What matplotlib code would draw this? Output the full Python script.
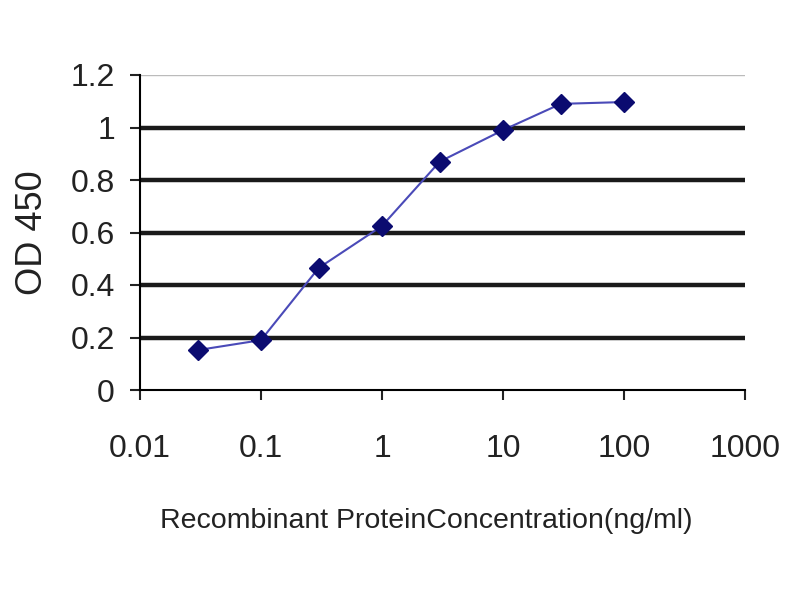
import matplotlib
matplotlib.use('Agg')
import matplotlib.pyplot as plt
from matplotlib.ticker import FixedLocator, FixedFormatter, NullLocator

# concentration (ng/ml) vs OD 450
conc = [0.03, 0.1, 0.3, 1, 3, 10, 30, 100]
od450 = [0.152, 0.19, 0.465, 0.625, 0.87, 0.99, 1.09, 1.097]

xticks = [0.01, 0.1, 1, 10, 100, 1000]
xtick_labels = ['0.01', '0.1', '1', '10', '100', '1000']
yticks = [0, 0.2, 0.4, 0.6, 0.8, 1.0, 1.2]
ytick_labels = ['0', '0.2', '0.4', '0.6', '0.8', '1', '1.2']

plt.rcParams['font.family'] = ['Liberation Sans', 'DejaVu Sans']

fig = plt.figure(figsize=(8, 6), dpi=100)
ax = fig.add_axes([140 / 800, 1 - 390 / 600, 605 / 800, 315 / 600])

ax.set_xscale('log')
ax.set_xlim(0.01, 1000)
ax.set_ylim(0, 1.2)

for y in yticks[1:-1]:
    ax.axhline(y, color='#1a1a1a', lw=3.2, zorder=1)
ax.axhline(1.2, color='#bbbbbb', lw=1, zorder=1)

ax.plot(conc, od450, color='#4a4ab8', lw=1.5, zorder=3)
ax.plot(conc, od450, ls='none', marker='D', ms=10, color='#0b0b70', zorder=4)

ax.xaxis.set_major_locator(FixedLocator(xticks))
ax.xaxis.set_major_formatter(FixedFormatter(xtick_labels))
ax.xaxis.set_minor_locator(NullLocator())
ax.yaxis.set_major_locator(FixedLocator(yticks))
ax.yaxis.set_major_formatter(FixedFormatter(ytick_labels))

for s in ['top', 'right']:
    ax.spines[s].set_visible(False)
ax.spines['left'].set_linewidth(1.5)
ax.spines['bottom'].set_linewidth(1.5)
ax.tick_params(axis='both', direction='out', length=7, width=1.5,
               labelsize=23, colors='#222222')
ax.tick_params(axis='x', pad=25)
ax.tick_params(axis='y', pad=11)

ax.set_xlabel('Recombinant ProteinConcentration(ng/ml)', fontsize=20.5,
              color='#222222', va='center', ha='center')
ax.xaxis.set_label_coords(0.473, -0.416)
ax.set_ylabel('OD 450', fontsize=26, color='#222222', va='center', ha='center')
ax.yaxis.set_label_coords(-0.177, 0.498)

fig.savefig('out.png', dpi=100)
